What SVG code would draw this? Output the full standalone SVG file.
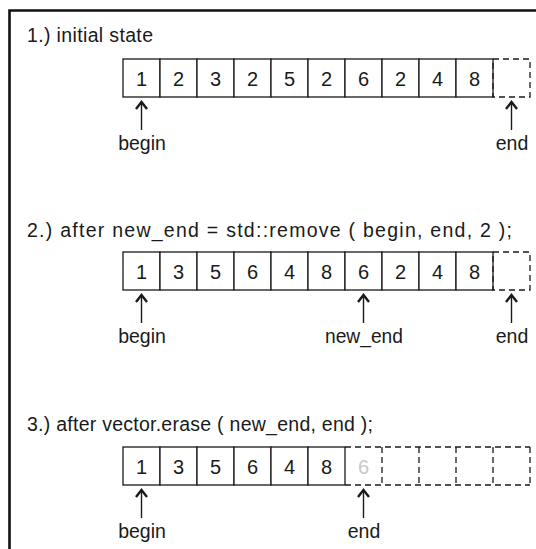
<svg xmlns="http://www.w3.org/2000/svg" width="536" height="549" viewBox="0 0 536 549">
<style>
text{font-family:"Liberation Sans",Arial,sans-serif;fill:#1a1a1a}
.t{font-size:19.5px}
.d{font-size:20px;text-anchor:middle}
.l{font-size:19.5px;text-anchor:middle}
.c{fill:#fff;stroke:#1a1a1a;stroke-width:1.3}
.dash{fill:none;stroke:#1a1a1a;stroke-width:1.3;stroke-dasharray:6 4}
.ar{stroke:#1a1a1a;stroke-width:1.4;fill:none;marker-end:url(#ah)}
.ghost{fill:#c8c8c8}
</style>
<defs>
<marker id="ah" markerUnits="userSpaceOnUse" markerWidth="14" markerHeight="14" refX="0" refY="0" viewBox="-8 -7 10 14" orient="auto" overflow="visible">
<path d="M-7,-5.5 L0,0 L-7,5.5" fill="none" stroke="#1a1a1a" stroke-width="2.4" stroke-linejoin="miter"/>
</marker>
</defs>
<rect width="536" height="549" fill="#fff"/>
<path d="M9.5,560 V10.5 H545" fill="none" stroke="#111" stroke-width="2.6"/>

<text class="t" x="27" y="42" textLength="126" lengthAdjust="spacing">1.) initial state</text>
<text class="t" x="27" y="237" textLength="485" lengthAdjust="spacing">2.) after new_end = std::remove ( begin, end, 2 );</text>
<text class="t" x="27" y="431" textLength="346" lengthAdjust="spacing">3.) after vector.erase ( new_end, end );</text>

<g id="row1">
<g id="r1c1"><rect class="c" x="123" y="59" width="37" height="38"/><text class="d" x="141.5" y="85.5">1</text></g>
<g id="r1c2"><rect class="c" x="160" y="59" width="37" height="38"/><text class="d" x="178.5" y="85.5">2</text></g>
<g id="r1c3"><rect class="c" x="197" y="59" width="37" height="38"/><text class="d" x="215.5" y="85.5">3</text></g>
<g id="r1c4"><rect class="c" x="234" y="59" width="37" height="38"/><text class="d" x="252.5" y="85.5">2</text></g>
<g id="r1c5"><rect class="c" x="271" y="59" width="37" height="38"/><text class="d" x="289.5" y="85.5">5</text></g>
<g id="r1c6"><rect class="c" x="308" y="59" width="37" height="38"/><text class="d" x="326.5" y="85.5">2</text></g>
<g id="r1c7"><rect class="c" x="345" y="59" width="37" height="38"/><text class="d" x="363.5" y="85.5">6</text></g>
<g id="r1c8"><rect class="c" x="382" y="59" width="37" height="38"/><text class="d" x="400.5" y="85.5">2</text></g>
<g id="r1c9"><rect class="c" x="419" y="59" width="37" height="38"/><text class="d" x="437.5" y="85.5">4</text></g>
<g id="r1c10"><rect class="c" x="456" y="59" width="37" height="38"/><text class="d" x="474.5" y="85.5">8</text></g>
<g id="r1end"><rect class="dash" x="493" y="59" width="37" height="38"/></g>
</g>

<g id="row2">
<g id="r2c1"><rect class="c" x="123" y="252" width="37" height="38"/><text class="d" x="141.5" y="278.5">1</text></g>
<g id="r2c2"><rect class="c" x="160" y="252" width="37" height="38"/><text class="d" x="178.5" y="278.5">3</text></g>
<g id="r2c3"><rect class="c" x="197" y="252" width="37" height="38"/><text class="d" x="215.5" y="278.5">5</text></g>
<g id="r2c4"><rect class="c" x="234" y="252" width="37" height="38"/><text class="d" x="252.5" y="278.5">6</text></g>
<g id="r2c5"><rect class="c" x="271" y="252" width="37" height="38"/><text class="d" x="289.5" y="278.5">4</text></g>
<g id="r2c6"><rect class="c" x="308" y="252" width="37" height="38"/><text class="d" x="326.5" y="278.5">8</text></g>
<g id="r2c7"><rect class="c" x="345" y="252" width="37" height="38"/><text class="d" x="363.5" y="278.5">6</text></g>
<g id="r2c8"><rect class="c" x="382" y="252" width="37" height="38"/><text class="d" x="400.5" y="278.5">2</text></g>
<g id="r2c9"><rect class="c" x="419" y="252" width="37" height="38"/><text class="d" x="437.5" y="278.5">4</text></g>
<g id="r2c10"><rect class="c" x="456" y="252" width="37" height="38"/><text class="d" x="474.5" y="278.5">8</text></g>
<g id="r2end"><rect class="dash" x="493" y="252" width="37" height="38"/></g>
</g>

<g id="row3">
<g id="r3c1"><rect class="c" x="123" y="447" width="37" height="38"/><text class="d" x="141.5" y="473.5">1</text></g>
<g id="r3c2"><rect class="c" x="160" y="447" width="37" height="38"/><text class="d" x="178.5" y="473.5">3</text></g>
<g id="r3c3"><rect class="c" x="197" y="447" width="37" height="38"/><text class="d" x="215.5" y="473.5">5</text></g>
<g id="r3c4"><rect class="c" x="234" y="447" width="37" height="38"/><text class="d" x="252.5" y="473.5">6</text></g>
<g id="r3c5"><rect class="c" x="271" y="447" width="37" height="38"/><text class="d" x="289.5" y="473.5">4</text></g>
<g id="r3c6"><rect class="c" x="308" y="447" width="37" height="38"/><text class="d" x="326.5" y="473.5">8</text></g>
<g id="r3free">
<path class="dash" d="M345,447 H530 M345,485 H530 M382,447 V485 M419,447 V485 M456,447 V485 M493,447 V485 M530,447 V485"/>
<text class="d ghost" x="363.5" y="473.5">6</text>
</g>
</g>

<g id="connectors">
<line class="ar" x1="141.5" y1="130" x2="141.5" y2="102"/>
<line class="ar" x1="511.5" y1="130" x2="511.5" y2="102"/>
<line class="ar" x1="141.5" y1="323" x2="141.5" y2="295"/>
<line class="ar" x1="363.5" y1="323" x2="363.5" y2="295"/>
<line class="ar" x1="511.5" y1="323" x2="511.5" y2="295"/>
<line class="ar" x1="141.5" y1="518" x2="141.5" y2="490"/>
<line class="ar" x1="363.5" y1="518" x2="363.5" y2="490"/>
</g>

<g id="labels">
<text class="l" x="142" y="150">begin</text>
<text class="l" x="512" y="150">end</text>
<text class="l" x="142" y="343">begin</text>
<text class="l" x="364" y="343" textLength="78" lengthAdjust="spacingAndGlyphs">new_end</text>
<text class="l" x="512" y="343">end</text>
<text class="l" x="142" y="538">begin</text>
<text class="l" x="364" y="538">end</text>
</g>
</svg>
